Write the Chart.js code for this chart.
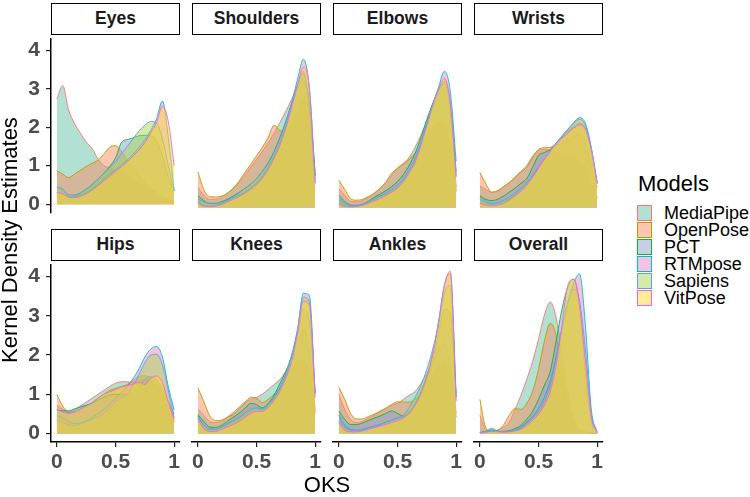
<!DOCTYPE html>
<html><head><meta charset="utf-8">
<script src="https://cdn.jsdelivr.net/npm/chart.js@4.4.1/dist/chart.umd.min.js"></script>
<style>
html,body{margin:0;padding:0;background:#fff;}
#wrap{position:relative;width:750px;height:497px;overflow:hidden;font-family:'Liberation Sans',Arial,sans-serif;}
#wrap canvas{position:absolute;}
.strip{position:absolute;box-sizing:border-box;border:1.5px solid #000;background:#fff;text-align:center;font-weight:bold;font-size:17.5px;color:#1a1a1a;line-height:29px;}
.txt{position:absolute;white-space:nowrap;color:#000;}
.key{position:absolute;box-sizing:border-box;width:15px;height:16px;border:1.5px solid;}
.lab{position:absolute;font-size:18px;line-height:17px;color:#000;white-space:nowrap;}
</style></head>
<body><div id="wrap"></div>
<script>
// ---- categories / ticks ----
const models = ['MediaPipe','OpenPose','PCT','RTMpose','Sapiens','VitPose'];
const facets = ['Eyes','Shoulders','Elbows','Wrists','Hips','Knees','Ankles','Overall'];
const xs = [0,0.05,0.1,0.15,0.2,0.25,0.3,0.35,0.4,0.45,0.5,0.55,0.6,0.65,0.7,0.75,0.8,0.85,0.9,0.95,1];
const yTicks = [0,1,2,3,4];
const xTicks = [0,0.5,1];
const xTickLabels = ['0','0.5','1'];

// ---- density values (one array per facet & model, sampled at xs) ----
const eyes_MediaPipe = [2.74,3.08,2.45,2.1,1.85,1.62,1.45,1.18,1.0,0.95,0.9,0.85,0.75,0.65,0.55,0.45,0.35,0.25,0.15,0.08,0.03];
const eyes_OpenPose  = [0.87,0.78,0.69,0.78,0.88,0.98,1.06,1.14,1.3,1.48,1.52,1.38,1.15,0.95,0.75,0.55,0.4,0.3,0.2,0.12,0.08];
const eyes_PCT       = [0.3,0.25,0.2,0.22,0.28,0.38,0.5,0.65,0.8,0.98,1.2,1.6,1.68,1.72,1.78,1.79,1.78,1.65,1.25,0.7,0.35];
const eyes_RTMpose   = [0.42,0.36,0.22,0.2,0.23,0.3,0.4,0.52,0.65,0.78,0.9,1.02,1.15,1.3,1.48,1.68,1.92,2.22,2.68,1.75,0.35];
const eyes_Sapiens   = [0.45,0.4,0.25,0.24,0.3,0.4,0.52,0.65,0.8,0.95,1.1,1.3,1.5,1.7,1.9,2.05,2.15,2.1,1.7,1.0,0.35];
const eyes_VitPose   = [0.3,0.27,0.18,0.17,0.2,0.27,0.36,0.48,0.6,0.72,0.85,0.97,1.1,1.25,1.4,1.6,1.85,2.12,2.55,2.15,1.0];

const shoulders_MediaPipe = [0.5,0.3,0.2,0.2,0.25,0.35,0.48,0.62,0.8,1.0,1.2,1.4,1.62,1.85,2.12,2.4,2.7,3.05,3.4,2.6,0.7];
const shoulders_OpenPose  = [0.89,0.45,0.27,0.26,0.28,0.35,0.47,0.65,0.87,1.07,1.29,1.5,1.75,2.05,1.92,1.9,2.1,2.4,2.7,2.3,0.9];
const shoulders_PCT       = [0.29,0.17,0.1,0.1,0.14,0.2,0.28,0.37,0.47,0.58,0.72,0.9,1.12,1.4,1.75,2.15,2.6,3.0,3.2,2.6,0.79];
const shoulders_RTMpose   = [0.15,0.05,0.03,0.05,0.1,0.17,0.23,0.3,0.38,0.48,0.6,0.78,1.0,1.28,1.62,2.05,2.6,3.2,3.7,3.0,0.8];
const shoulders_Sapiens   = [0.2,0.14,0.1,0.1,0.12,0.18,0.26,0.36,0.47,0.58,0.72,0.9,1.1,1.38,1.72,2.12,2.6,3.05,3.35,2.5,0.6];
const shoulders_VitPose   = [0.1,0.03,0.02,0.03,0.07,0.13,0.2,0.27,0.35,0.45,0.57,0.73,0.95,1.22,1.55,1.98,2.5,3.05,3.5,3.0,0.6];

const elbows_MediaPipe = [0.46,0.3,0.15,0.14,0.17,0.25,0.35,0.48,0.62,0.8,0.98,1.1,1.25,1.5,1.8,2.15,2.5,2.8,3.0,2.3,0.5];
const elbows_OpenPose  = [0.68,0.45,0.22,0.18,0.2,0.27,0.35,0.47,0.63,0.85,0.98,1.08,1.2,1.35,1.55,1.8,2.0,2.12,2.05,1.5,0.4];
const elbows_PCT       = [0.3,0.15,0.06,0.05,0.08,0.15,0.25,0.33,0.42,0.52,0.65,0.82,1.05,1.35,1.75,2.2,2.6,2.95,3.15,2.6,0.9];
const elbows_RTMpose   = [0.15,0.05,0.02,0.03,0.06,0.12,0.2,0.27,0.34,0.42,0.52,0.68,0.9,1.15,1.6,2.1,2.55,3.0,3.4,2.9,1.15];
const elbows_Sapiens   = [0.2,0.1,0.05,0.05,0.08,0.14,0.22,0.28,0.36,0.45,0.56,0.72,0.95,1.22,1.62,2.05,2.5,2.9,3.1,2.5,0.8];
const elbows_VitPose   = [0.08,0.02,0.01,0.02,0.05,0.1,0.16,0.22,0.3,0.38,0.48,0.64,0.86,1.12,1.55,2.05,2.55,2.95,3.22,2.6,0.75];

const wrists_MediaPipe = [0.54,0.45,0.38,0.4,0.5,0.62,0.75,0.9,1.05,1.28,1.42,1.45,1.42,1.38,1.35,1.3,1.25,1.15,0.95,0.6,0.25];
const wrists_OpenPose  = [0.87,0.6,0.38,0.42,0.52,0.62,0.75,0.88,1.0,1.25,1.45,1.49,1.5,1.55,1.62,1.7,1.78,1.82,1.6,1.05,0.5];
const wrists_PCT       = [0.29,0.2,0.17,0.2,0.28,0.38,0.48,0.6,0.72,1.0,1.3,1.37,1.45,1.6,1.75,1.9,2.02,2.1,1.95,1.4,0.6];
const wrists_RTMpose   = [0.2,0.12,0.08,0.1,0.15,0.22,0.32,0.45,0.6,0.78,1.0,1.2,1.4,1.6,1.78,1.95,2.12,2.24,2.1,1.5,0.62];
const wrists_Sapiens   = [0.25,0.15,0.1,0.12,0.18,0.26,0.36,0.48,0.62,0.8,1.0,1.2,1.4,1.6,1.78,1.95,2.1,2.2,2.05,1.45,0.6];
const wrists_VitPose   = [0.1,0.06,0.04,0.06,0.1,0.18,0.28,0.4,0.55,0.75,0.98,1.2,1.4,1.58,1.72,1.85,1.98,2.06,1.95,1.45,0.6];

const hips_MediaPipe = [0.72,0.62,0.55,0.6,0.7,0.8,0.9,1.0,1.1,1.2,1.28,1.32,1.32,1.3,1.35,1.38,1.35,1.25,1.0,0.65,0.3];
const hips_OpenPose  = [1.0,0.7,0.55,0.55,0.62,0.7,0.78,0.9,1.0,1.1,1.15,1.2,1.25,1.35,1.45,1.47,1.42,1.3,1.05,0.65,0.3];
const hips_PCT       = [0.6,0.58,0.58,0.63,0.68,0.72,0.77,0.85,0.92,0.98,1.0,1.0,1.0,1.05,1.2,1.38,1.45,1.38,1.15,0.8,0.5];
const hips_RTMpose   = [0.45,0.4,0.3,0.25,0.27,0.32,0.4,0.5,0.62,0.75,0.9,1.05,1.2,1.4,1.65,1.95,2.15,2.22,1.95,1.2,0.6];
const hips_Sapiens   = [0.35,0.28,0.22,0.2,0.24,0.3,0.36,0.42,0.52,0.65,0.8,0.92,1.0,1.22,1.5,1.8,2.0,2.02,1.75,1.1,0.4];
const hips_VitPose   = [0.61,0.55,0.51,0.55,0.62,0.7,0.78,0.9,1.0,1.06,1.12,1.18,1.22,1.26,1.3,1.25,1.4,1.47,1.3,0.8,0.35];

const knees_MediaPipe = [0.61,0.45,0.3,0.27,0.3,0.4,0.52,0.65,0.78,0.85,0.9,0.98,1.1,1.22,1.35,1.55,1.8,2.2,2.6,2.1,0.6];
const knees_OpenPose  = [1.14,0.8,0.45,0.32,0.33,0.4,0.47,0.6,0.75,0.9,0.88,0.77,0.85,0.98,1.15,1.35,1.6,1.8,1.84,1.5,0.5];
const knees_PCT       = [0.47,0.3,0.16,0.15,0.2,0.3,0.4,0.5,0.62,0.75,0.72,0.64,0.75,0.95,1.25,1.55,1.95,2.5,3.1,2.8,1.0];
const knees_RTMpose   = [0.43,0.2,0.1,0.1,0.15,0.22,0.3,0.38,0.48,0.58,0.62,0.6,0.7,0.88,1.12,1.45,1.9,2.6,3.5,3.45,1.0];
const knees_Sapiens   = [0.4,0.22,0.12,0.12,0.16,0.24,0.32,0.4,0.5,0.6,0.64,0.62,0.72,0.9,1.15,1.5,1.95,2.6,3.4,3.3,1.0];
const knees_VitPose   = [0.35,0.12,0.05,0.05,0.1,0.16,0.22,0.3,0.4,0.5,0.55,0.55,0.65,0.82,1.05,1.38,1.8,2.5,3.3,3.2,0.9];

const ankles_MediaPipe = [0.97,0.6,0.35,0.27,0.3,0.38,0.45,0.55,0.62,0.7,0.75,0.85,0.95,1.05,1.25,1.5,1.8,2.1,2.25,1.7,0.5];
const ankles_OpenPose  = [1.15,0.85,0.5,0.36,0.36,0.42,0.48,0.55,0.63,0.72,0.79,0.78,0.78,0.85,1.0,1.2,1.45,1.7,1.8,1.4,0.4];
const ankles_PCT       = [0.56,0.35,0.22,0.22,0.26,0.32,0.38,0.43,0.5,0.56,0.5,0.43,0.5,0.7,0.95,1.3,1.8,2.5,3.1,3.0,0.9];
const ankles_RTMpose   = [0.45,0.2,0.1,0.08,0.1,0.14,0.18,0.22,0.28,0.33,0.38,0.42,0.55,0.75,1.05,1.45,2.0,2.8,3.7,4.0,1.0];
const ankles_Sapiens   = [0.3,0.15,0.08,0.07,0.09,0.13,0.17,0.21,0.27,0.33,0.38,0.45,0.65,0.9,1.2,1.6,2.1,2.7,3.5,3.7,0.9];
const ankles_VitPose   = [0.25,0.08,0.04,0.04,0.06,0.1,0.14,0.18,0.22,0.27,0.32,0.38,0.5,0.7,1.0,1.4,1.95,2.75,3.7,4.05,0.8];

const overall_MediaPipe = [0.45,0.1,0.05,0.08,0.15,0.28,0.6,0.95,1.35,1.8,2.35,2.95,3.28,2.9,2.0,1.0,0.35,0.1,0.04,0.01,0.0];
const overall_OpenPose  = [0.85,0.15,0.05,0.08,0.2,0.45,0.62,0.6,0.75,1.05,1.6,2.3,2.75,2.45,1.5,0.7,0.25,0.08,0.03,0.01,0.0];
const overall_PCT       = [0.02,0.05,0.12,0.06,0.05,0.07,0.12,0.2,0.35,0.55,0.85,1.2,1.55,2.3,3.1,3.65,3.85,3.2,1.5,0.3,0.02];
const overall_RTMpose   = [0.02,0.05,0.08,0.05,0.04,0.05,0.08,0.15,0.28,0.42,0.62,0.9,1.3,1.9,2.6,3.2,3.75,3.98,2.7,0.6,0.03];
const overall_Sapiens   = [0.02,0.04,0.06,0.05,0.04,0.05,0.08,0.13,0.25,0.38,0.55,0.8,1.2,1.85,2.6,3.3,3.6,3.3,2.1,0.5,0.02];
const overall_VitPose   = [0.01,0.03,0.05,0.04,0.03,0.04,0.06,0.1,0.2,0.32,0.48,0.7,1.05,1.7,2.7,3.7,3.85,3.2,1.8,0.4,0.02];

// ---- styling ----
const lineColors = ['#F8766D','#B79F00','#00BA38','#00BFC4','#619CFF','#F564E3'];
const fillColors = ['rgba(102,194,165,0.5)','rgba(252,141,98,0.5)','rgba(141,160,203,0.5)','rgba(231,138,195,0.5)','rgba(166,216,84,0.5)','rgba(255,217,47,0.5)'];

const facetValues = [
  [eyes_MediaPipe,eyes_OpenPose,eyes_PCT,eyes_RTMpose,eyes_Sapiens,eyes_VitPose],
  [shoulders_MediaPipe,shoulders_OpenPose,shoulders_PCT,shoulders_RTMpose,shoulders_Sapiens,shoulders_VitPose],
  [elbows_MediaPipe,elbows_OpenPose,elbows_PCT,elbows_RTMpose,elbows_Sapiens,elbows_VitPose],
  [wrists_MediaPipe,wrists_OpenPose,wrists_PCT,wrists_RTMpose,wrists_Sapiens,wrists_VitPose],
  [hips_MediaPipe,hips_OpenPose,hips_PCT,hips_RTMpose,hips_Sapiens,hips_VitPose],
  [knees_MediaPipe,knees_OpenPose,knees_PCT,knees_RTMpose,knees_Sapiens,knees_VitPose],
  [ankles_MediaPipe,ankles_OpenPose,ankles_PCT,ankles_RTMpose,ankles_Sapiens,ankles_VitPose],
  [overall_MediaPipe,overall_OpenPose,overall_PCT,overall_RTMpose,overall_Sapiens,overall_VitPose]
];

const wrap = document.getElementById('wrap');
const colLeft = [51,192,333,474];
const rowTop = [35,261];
const PW = 129, PH = 181;
const M = 15, YW = 31, XH = 40;
const FONT = "'Liberation Sans', Arial, sans-serif";

function addText(txt, css, cls){
  const d = document.createElement('div');
  d.className = cls || 'txt';
  d.textContent = txt;
  Object.assign(d.style, css);
  wrap.appendChild(d);
  return d;
}

function makePanel(fi){
  const col = fi % 4, row = Math.floor(fi / 4);
  const hasY = col === 0, hasX = row === 1;
  const pL = colLeft[col], pT = rowTop[row];
  addText(facets[fi], {left:pL+'px', top:(pT-32)+'px', width:PW+'px', height:'32px'}, 'strip');
  const cv = document.createElement('canvas');
  const w = PW + 2*M + (hasY ? YW : 0);
  const h = PH + 2*M + (hasX ? XH : 0);
  cv.width = w; cv.height = h;
  cv.style.left = (pL - M - (hasY ? YW : 0)) + 'px';
  cv.style.top = (pT - M) + 'px';
  cv.style.width = w + 'px'; cv.style.height = h + 'px';
  wrap.appendChild(cv);
  const vals = facetValues[fi];
  new Chart(cv, {
    type: 'line',
    data: {
      datasets: models.map((m, i) => ({
        label: m,
        data: xs.map((x, j) => ({x: x, y: vals[i][j]})),
        borderColor: lineColors[i],
        backgroundColor: fillColors[i],
        borderWidth: 0.9,
        fill: 'origin',
        pointRadius: 0,
        cubicInterpolationMode: 'monotone',
        order: models.length - 1 - i
      }))
    },
    options: {
      responsive: false, animation: false, devicePixelRatio: 1, events: [],
      layout: {padding: {left: M, right: M, top: M, bottom: M}},
      plugins: {legend: {display: false}, tooltip: {enabled: false}},
      scales: {
        x: {
          type: 'linear', min: -0.05, max: 1.05, display: hasX,
          afterFit: hasX ? (s => { s.height = XH; }) : undefined,
          afterBuildTicks: s => { s.ticks = xTicks.map(v => ({value: v})); },
          ticks: {callback: (v, i) => xTickLabels[i], color: '#4D4D4D', padding: 3, maxRotation: 0, autoSkip: false,
                  font: {family: FONT, size: 21, weight: 'bold'}},
          grid: {display: true, drawOnChartArea: false, drawTicks: true, tickLength: 5, color: '#222', lineWidth: 1.2},
          border: {display: true, color: '#000', width: 1.5}
        },
        y: {
          type: 'linear', min: -0.215, max: 4.305, display: hasY,
          afterFit: hasY ? (s => { s.width = YW; }) : undefined,
          afterBuildTicks: s => { s.ticks = yTicks.map(v => ({value: v})); },
          ticks: {callback: v => String(v), color: '#4D4D4D', padding: 6, autoSkip: false,
                  font: {family: FONT, size: 21, weight: 'bold'}},
          grid: {display: true, drawOnChartArea: false, drawTicks: true, tickLength: 5, color: '#222', lineWidth: 1.2},
          border: {display: true, color: '#000', width: 1.5}
        }
      }
    }
  });
}

for (let i = 0; i < facets.length; i++) makePanel(i);

// axis titles
addText('OKS', {left:'277px', top:'474px', width:'100px', textAlign:'center', fontSize:'22px', lineHeight:'22px'});
addText('Kernel Density Estimates', {left:(10.4-150)+'px', top:(240-11)+'px', width:'300px', textAlign:'center', fontSize:'22px', lineHeight:'22px', transform:'rotate(-90deg)'});

// legend
addText('Models', {left:'638px', top:'173px', fontSize:'22px', lineHeight:'22px'});
models.forEach((m, i) => {
  const top = 205 + i * 17;
  const k = document.createElement('div');
  k.className = 'key';
  k.style.left = '637px'; k.style.top = top + 'px';
  k.style.borderColor = lineColors[i];
  k.style.background = fillColors[i];
  wrap.appendChild(k);
  addText(m, {left:'664px', top:(top)+'px'}, 'lab');
});
</script>
</body></html>
